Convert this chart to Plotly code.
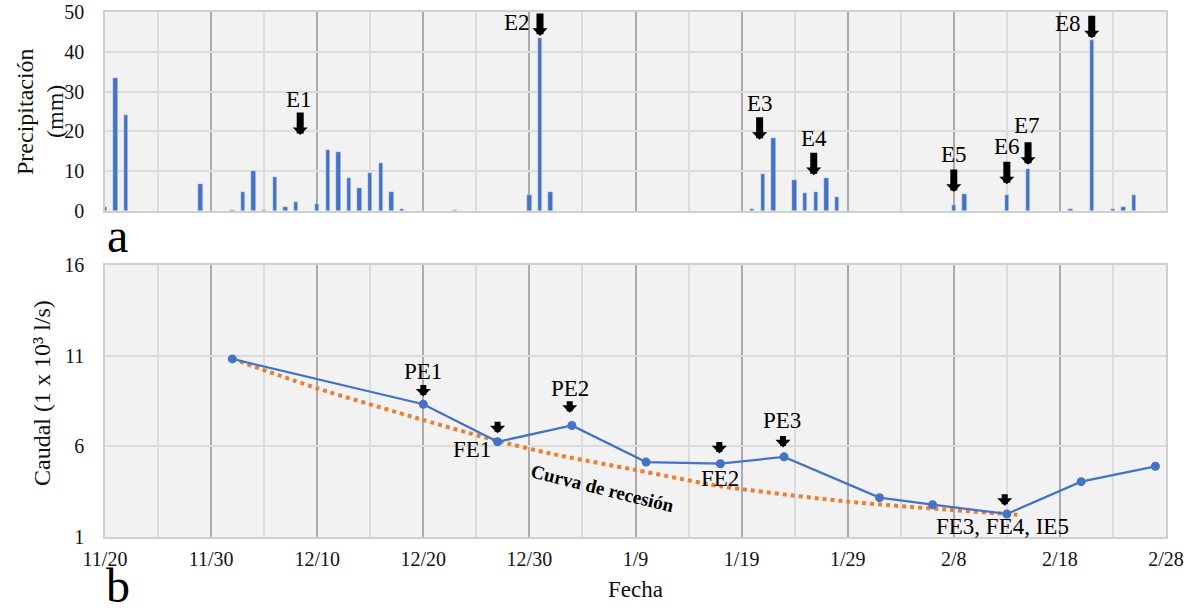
import plotly.graph_objects as go
import pandas as pd

# ---------------- data ----------------
rain_dates = ["2018-11-20", "2018-11-21", "2018-11-22", "2018-11-29",
              "2018-12-02", "2018-12-03", "2018-12-04", "2018-12-05", "2018-12-06",
              "2018-12-07", "2018-12-08", "2018-12-10", "2018-12-11", "2018-12-12",
              "2018-12-13", "2018-12-14", "2018-12-15", "2018-12-16", "2018-12-17",
              "2018-12-18", "2018-12-23", "2018-12-30", "2018-12-31", "2019-01-01",
              "2019-01-20", "2019-01-21", "2019-01-22", "2019-01-24", "2019-01-25",
              "2019-01-26", "2019-01-27", "2019-01-28", "2019-02-08", "2019-02-09",
              "2019-02-13", "2019-02-15", "2019-02-19", "2019-02-21", "2019-02-22",
              "2019-02-23", "2019-02-24", "2019-02-25"]
rain_mm = [1.0, 33.4, 24.0, 6.9,
           0.3, 4.8, 10.1, 0.2, 8.6,
           0.9, 2.2, 1.8, 15.3, 14.9,
           8.4, 5.8, 9.6, 12.0, 4.8,
           0.5, 0.3, 3.9, 43.5, 4.9,
           0.6, 9.2, 18.3, 7.7, 4.5,
           4.7, 8.3, 3.6, 1.5, 4.3,
           4.1, 10.5, 0.5, 43.0, 0.1,
           0.5, 0.9, 4.1]

flow_dates = ["2018-12-02", "2018-12-20", "2018-12-27", "2019-01-03", "2019-01-10",
              "2019-01-17", "2019-01-23", "2019-02-01", "2019-02-06", "2019-02-13",
              "2019-02-20", "2019-02-27"]
flow_vals = [10.82, 8.32, 6.25, 7.15, 5.13, 5.04, 5.42, 3.17, 2.78, 2.27, 4.05, 4.9]

recession_dates = ["2018-12-02", "2018-12-10", "2018-12-20", "2018-12-27", "2019-01-01",
                   "2019-01-09", "2019-01-17", "2019-01-29", "2019-02-08", "2019-02-14"]
recession_vals = [10.82, 9.2, 7.45, 6.3, 5.6, 4.7, 3.8, 2.95, 2.48, 2.23]

x_range = ["2018-11-20", "2019-02-28"]
tick0 = "2018-11-20"

top_events = ["E1", "E2", "E3", "E4", "E5", "E6", "E7", "E8"]
bottom_events = ["PE1", "FE1", "PE2", "FE2", "PE3", "FE3, FE4, IE5"]

# ---------------- styling ----------------
FONT = "Liberation Serif"
DAY = 86400000
BLUE = "#4472C4"
ORANGE = "#ED7D31"
BG = "#F2F2F2"
MAJ = "#ABABAB"
MIN = "#DCDCDC"
TXT = "#111111"

W, H = 1190, 611
ML, MR, MT, MB = 105, 24, 12, 74
ph = H - MT - MB
pw = W - ML - MR
PY0 = MT + ph  # y of plot bottom (537)
top_dom = [(PY0 - 211) / ph, 1.0]
bot_dom = [0.0, (PY0 - 265) / ph]

def px(xpix):
    return (xpix - ML) / pw

def py(ypix):
    return (PY0 - ypix) / ph

def day(s, frac=0.0):
    return pd.Timestamp(s) + pd.Timedelta(days=frac)

fig = go.Figure()

fig.add_trace(go.Bar(
    x=pd.to_datetime(rain_dates), y=rain_mm, marker_color=BLUE,
    width=0.42 * DAY, xaxis="x", yaxis="y", showlegend=False))

fig.add_trace(go.Scatter(
    x=pd.to_datetime(recession_dates), y=recession_vals, mode="lines",
    line=dict(color=ORANGE, width=4, dash="dot", shape="spline", smoothing=0.6),
    xaxis="x2", yaxis="y2", showlegend=False))

fig.add_trace(go.Scatter(
    x=pd.to_datetime(flow_dates), y=flow_vals, mode="lines+markers",
    line=dict(color=BLUE, width=2.25), marker=dict(color=BLUE, size=9),
    xaxis="x2", yaxis="y2", showlegend=False))

xcommon = dict(
    type="date", range=x_range, tick0=tick0, dtick=10 * DAY,
    showgrid=True, gridcolor=MAJ, gridwidth=1.5,
    minor=dict(tick0=tick0, dtick=5 * DAY, showgrid=True, gridcolor=MIN, gridwidth=1.5),
    showline=True, linecolor="#D0D0D0", linewidth=1.5, mirror=True,
    ticks="", automargin=False, zeroline=False, ticklabeloverflow="allow",
    tickfont=dict(family=FONT, size=20, color=TXT),
)
ycommon = dict(
    showgrid=True, gridcolor=MIN, gridwidth=1.5, zeroline=False, showline=True,
    linecolor="#D0D0D0", linewidth=1.5, mirror=True, ticks="",
    automargin=False, ticklabelstandoff=15, ticklabeloverflow="allow",
    tickfont=dict(family=FONT, size=20, color=TXT),
)
fig.update_layout(
    font=dict(family=FONT, color=TXT),
    xaxis=dict(xcommon, domain=[0, 1], anchor="y", showticklabels=False),
    yaxis=dict(ycommon, domain=top_dom, anchor="x", range=[0, 50], dtick=10),
    xaxis2=dict(xcommon, domain=[0, 1], anchor="y2", tickformat="%-m/%-d",
                ticklabelstandoff=3,
                title=dict(text="Fecha", standoff=12,
                           font=dict(family=FONT, size=23, color=TXT))),
    yaxis2=dict(ycommon, domain=bot_dom, anchor="x2", range=[1, 16], tick0=1, dtick=5),
    plot_bgcolor=BG, paper_bgcolor="white",
    width=W, height=H, margin=dict(l=ML, r=MR, t=MT, b=MB),
    bargap=0, showlegend=False,
)

ann = []

def arrow(xref, yref, x, y, length, width, size):
    ann.append(dict(xref=xref, yref=yref, x=x, y=y, ax=0, ay=-length,
                    axref="pixel", ayref="pixel", text="", showarrow=True,
                    arrowhead=1, arrowwidth=width, arrowsize=size,
                    arrowcolor="black", standoff=0))

def label(xref, yref, x, y, text, size=23, color="black", **kw):
    ann.append(dict(xref=xref, yref=yref, x=x, y=y, text=text, showarrow=False,
                    xanchor="center", yanchor="middle",
                    font=dict(family=FONT, size=size, color=color), **kw))

# top panel events: (arrow date, tip y, label date, label y)
top_pos = [
    (day("2018-12-08", 0.4), 19.1, day("2018-12-08", 0.3), 28.1),
    (day("2018-12-31"), 44.0, day("2018-12-28", 0.8), 47.3),
    (day("2019-01-20", 0.7), 17.9, day("2019-01-20", 0.7), 27.1),
    (day("2019-01-25", 0.8), 9.0, day("2019-01-25", 0.8), 18.3),
    (day("2019-02-08"), 4.8, day("2019-02-08"), 14.3),
    (day("2019-02-13"), 6.7, day("2019-02-13"), 16.1),
    (day("2019-02-15"), 11.6, day("2019-02-14", 0.9), 21.6),
    (day("2019-02-21"), 43.4, day("2019-02-18", 0.8), 47.0),
]
for name, (ax_, ty, lx, ly) in zip(top_events, top_pos):
    arrow("x", "y", ax_, ty, 24, 7, 0.36)
    label("x", "y", lx, ly, name)

# bottom panel events
bot_pos = [
    (day("2018-12-20"), 8.75, day("2018-12-20"), 10.15),
    (day("2018-12-27"), 6.72, day("2018-12-24", 0.6), 5.8),
    (day("2019-01-03", -0.2), 7.85, day("2019-01-03", -0.2), 9.17),
    (day("2019-01-17", -0.1), 5.61, day("2019-01-17"), 4.23),
    (day("2019-01-23", -0.1), 5.94, day("2019-01-22", 0.8), 7.4),
    (day("2019-02-12", 0.8), 2.72, day("2019-02-12", 0.6), 1.57),
]
for name, (ax_, ty, lx, ly) in zip(bottom_events, bot_pos):
    arrow("x2", "y2", ax_, ty, 13, 6, 0.42)
    label("x2", "y2", lx, ly, name)

label("x2", "y2", day("2019-01-05", 0.9), 3.66, "<b>Curva de recesión</b>", size=19,
      textangle=14)

# axis titles (rotated)
label("paper", "paper", px(25), py(112), "Precipitación", size=24,
      color=TXT, textangle=-90)
label("paper", "paper", px(55), py(112), "(mm)", size=24,
      color=TXT, textangle=-90)
label("paper", "paper", px(42), py(393), "Caudal (1 x 10³ l/s)", size=24,
      color=TXT, textangle=-90)

# panel letters
label("paper", "paper", px(117), py(236), "a", size=48)
label("paper", "paper", px(118), py(585), "b", size=48)

fig.update_layout(annotations=ann)

fig.write_html(
    "out.html",
    config={"displayModeBar": False},
    post_script="document.body.style.margin='0px';"
                "document.documentElement.style.overflow='hidden';",
)
